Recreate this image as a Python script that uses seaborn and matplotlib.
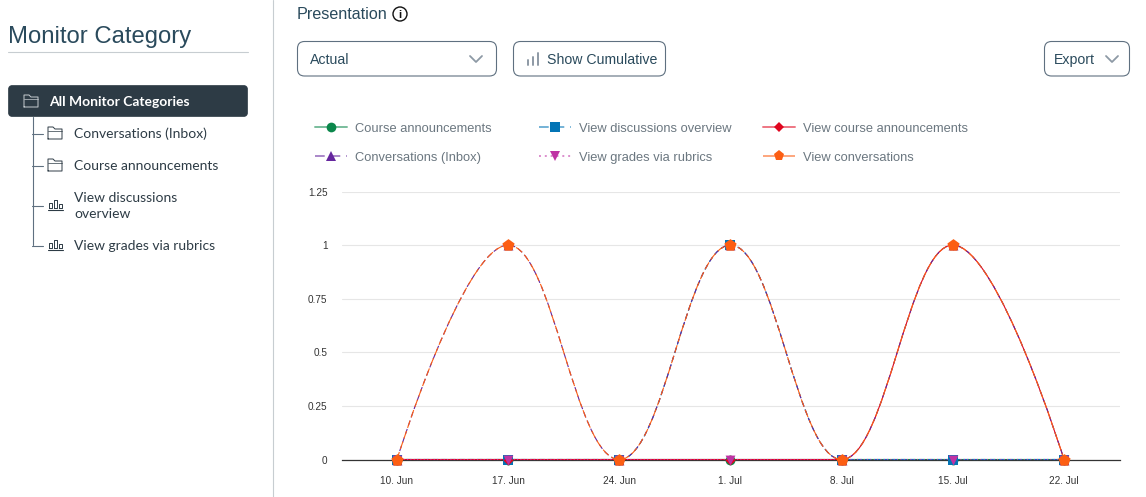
import numpy as np
import pandas as pd
import matplotlib
matplotlib.use("Agg")
import matplotlib.pyplot as plt
import matplotlib.dates as mdates
from matplotlib.colors import to_rgba
from matplotlib.lines import Line2D
from matplotlib.patches import Circle, FancyBboxPatch, PathPatch
from matplotlib.path import Path
import seaborn as sns

date_labels = ["10. Jun", "17. Jun", "24. Jun", "1. Jul", "8. Jul", "15. Jul", "22. Jul"]
y_labels = ["0", "0.25", "0.5", "0.75", "1", "1.25"]
y_ticks = [0, 0.25, 0.5, 0.75, 1, 1.25]

# draw order, later ones sit on top
series_names = [
    "Course announcements",
    "View discussions overview",
    "View course announcements",
    "Conversations (Inbox)",
    "View grades via rubrics",
    "View conversations",
]
course_announcements = [0, 0, 0, 0, 0, 0, 0]
view_discussions = [0, 0, 0, 1, 0, 0, 0]
view_course_announcements = [0, 0, 0, 0, 0, 1, 0]
conversations_inbox = [0, 1, 0, 1, 0, 1, 0]
view_grades = [0, 0, 0, 0, 0, 0, 0]
view_conversations = [0, 1, 0, 1, 0, 1, 0]
series_values = [course_announcements, view_discussions, view_course_announcements,
                 conversations_inbox, view_grades, view_conversations]

colors = ["#0B874B", "#0374B5", "#E0061F", "#65269E", "#BF32A4", "#FC5E13"]
markers = ["o", "s", "D", "^", "v", "p"]
sizes = [50, 60, 26, 50, 50, 85]
legend_sizes = [7, 6.5, 5, 7, 7, 8]
dashes = ["-", (0, (5, 3)), "-", (0, (5, 3)), (0, (1, 2)), (0, (7, 3))]

TEXT = "#2D3B45"
TITLE = "#2A4A5C"
MUTED = "#6B7780"
BORDER = "#5F7080"
CHEVRON = "#8D99A5"
RULE = "#C7CDD1"
W, H = 1146, 497

dates = pd.to_datetime([d + " 2024" for d in date_labels], format="%d. %b %Y")
df = pd.DataFrame({
    "date": np.tile(dates, len(series_names)),
    "series": np.repeat(series_names, len(dates)),
    "value": np.concatenate(series_values),
})


# same smoothing the web chart uses: first and last segment start straight,
# and a control point never overshoots its neighbours
def spline_path(x, y, smoothing=1.5):
    x, y = np.asarray(x, float), np.asarray(y, float)
    slopes = np.zeros(len(y))
    for i in range(1, len(y) - 1):
        t = (y[i + 1] - y[i - 1]) / 5
        left, right = y[i] - t, y[i] + t
        if not (min(y[i - 1], y[i]) <= left <= max(y[i - 1], y[i])
                and min(y[i + 1], y[i]) <= right <= max(y[i + 1], y[i])):
            t = 0
        slopes[i] = t
    verts, codes = [(x[0], y[0])], [Path.MOVETO]
    for i in range(1, len(x)):
        dx = (x[i] - x[i - 1]) / (smoothing + 1)
        c1 = (x[i - 1], y[i - 1])
        if i > 1:
            c1 = (x[i - 1] + dx, y[i - 1] + slopes[i - 1])
        c2 = (x[i], y[i])
        if i < len(x) - 1:
            c2 = (x[i] - dx, y[i] - slopes[i])
        verts += [c1, c2, (x[i], y[i])]
        codes += [Path.CURVE4] * 3
    return Path(verts, codes)


sns.set_theme(style="white", rc={"font.family": ["Liberation Sans", "DejaVu Sans"]})
fig = plt.figure(figsize=(W / 100, H / 100), dpi=100, facecolor="white")

# page furniture lives on a full-figure axes in pixel units
ui = fig.add_axes([0, 0, 1, 1])
ui.set_xlim(0, W)
ui.set_ylim(H, 0)
ui.axis("off")


def rounded_box(x0, y0, x1, y1, r=7, face="white", edge=BORDER, lw=0.8):
    ui.add_patch(FancyBboxPatch((x0, y0), x1 - x0, y1 - y0,
                                boxstyle=f"round,pad=0,rounding_size={r}",
                                fc=face, ec=edge, lw=lw))


def chevron(cx, cy):
    ui.plot([cx - 6, cx, cx + 6], [cy - 3, cy + 3, cy - 3], color=CHEVRON, lw=1.3)


def folder(x, y, color=TEXT):
    ui.plot([x, x, x + 5, x + 7, x + 14, x + 14, x],
            [y + 6, y - 6, y - 6, y - 4, y - 4, y + 6, y + 6], color=color, lw=0.7)
    ui.plot([x, x + 14], [y - 2, y - 2], color=color, lw=0.5)


def bars_icon(x, y):
    for dx, top in [(0, 5), (5, 8), (10, 4)]:
        ui.plot([x + dx, x + dx, x + dx + 3, x + dx + 3, x + dx],
                [y + 4, y + 4 - top, y + 4 - top, y + 4, y + 4], color=TEXT, lw=0.7)
    ui.plot([x - 1, x + 14], [y + 6, y + 6], color=TEXT, lw=0.8)


# left panel
ui.plot([272.5, 272.5], [0, H], color=RULE, lw=0.8)
ui.text(8, 36.5, "Monitor Category", fontsize=17.2, color=TITLE, va="center")
ui.plot([8, 248], [52, 52], color=RULE, lw=0.8)
rounded_box(8.5, 85.5, 247.5, 116.5, r=4, face="#2D3B45", edge="#2D3B45", lw=0.5)
folder(24, 101, color="#C7CDD1")
ui.text(49, 101.5, "All Monitor Categories", fontsize=10, family="Lato",
        weight="bold", color="white", va="center")
ui.plot([32.5, 32.5], [117, 245], color=BORDER, lw=0.8)
for y in [133, 165, 205, 245]:
    ui.plot([32, 43], [y + 0.5, y + 0.5], color=BORDER, lw=0.8)
folder(48, 133)
folder(48, 165)
bars_icon(49, 204)
bars_icon(49, 244)
for y, label in [(134, "Conversations (Inbox)"), (166, "Course announcements"),
                 (198, "View discussions"), (214, "overview"), (246, "View grades via rubrics")]:
    ui.text(74, y, label, fontsize=10, family="Lato", color=TEXT, va="center")

# controls above the chart
ui.text(297, 14.5, "Presentation", fontsize=11.6, color=TITLE, va="center")
ui.add_patch(Circle((400, 14), 7, fc="white", ec="#111111", lw=1.0))
ui.text(400, 14.5, "i", fontsize=8, weight="bold", color="#111111", ha="center", va="center")
rounded_box(297.5, 41.5, 496.5, 76)
ui.text(310, 60, "Actual", fontsize=10.2, color=TITLE, va="center")
chevron(476, 59)
rounded_box(513.5, 41.5, 665.5, 76)
ui.plot([527.5, 527.5], [65, 60], color=CHEVRON, lw=1.4)
ui.plot([532.5, 532.5], [65, 57], color=CHEVRON, lw=1.4)
ui.plot([537.5, 537.5], [65, 53], color=CHEVRON, lw=1.4)
ui.text(547, 60, "Show Cumulative", fontsize=10.2, color=TITLE, va="center")
rounded_box(1044.5, 41.5, 1129.5, 76)
ui.text(1054, 60, "Export", fontsize=10.2, color=TITLE, va="center")
chevron(1112, 59)

# chart
ax = fig.add_axes([342 / W, 1 - 459.5 / H, (1120 - 342) / W, (459.5 - 191.5) / H])
ax.patch.set_alpha(0)
xnum = mdates.date2num(dates)
px_day = (1064 - 397) / (xnum[-1] - xnum[0])
x_range = (xnum[0] - (397 - 342) / px_day, xnum[-1] + (1120 - 1064) / px_day)

for i, name in enumerate(series_names):
    ax.add_patch(PathPatch(spline_path(xnum, series_values[i]), fill=False, ec=colors[i],
                           lw=0.8, ls=dashes[i], zorder=3 + i * 0.1, clip_on=False))
for i, name in enumerate(series_names):
    sns.scatterplot(data=df[df["series"] == name], x="date", y="value", ax=ax,
                    color=colors[i], marker=markers[i], s=sizes[i], linewidth=0,
                    zorder=4 + i * 0.1, clip_on=False, legend=False)

ax.set_xlim(*x_range)
ax.set_ylim(0, 1.25)
ax.set_xticks(dates, date_labels)
ax.set_yticks(y_ticks, y_labels)
ax.set_xlabel("")
ax.set_ylabel("")
ax.grid(axis="y", color="#E6E6E6", lw=0.8)
ax.grid(axis="x", visible=False)
ax.tick_params(axis="x", length=0, pad=12, labelsize=7.2, labelcolor="#333333")
ax.tick_params(axis="y", length=0, pad=10.5, labelsize=7.2, labelcolor="#333333")
sns.despine(ax=ax, left=True)
ax.spines["bottom"].set_color("#333333")
ax.spines["bottom"].set_linewidth(0.9)

# legend: the columns are not evenly spaced, so one legend per column
columns = [([0, 3], 311), ([1, 4], 535), ([2, 5], 759)]
for idx, left in columns:
    handles = [Line2D([], [], color=to_rgba(colors[i], 0.55), lw=1.4, ls=dashes[i],
                      marker=markers[i], markersize=legend_sizes[i], markerfacecolor=colors[i],
                      markeredgecolor=colors[i], markeredgewidth=0) for i in idx]
    leg = fig.legend(handles, [series_names[i] for i in idx], loc="upper left",
                     bbox_to_anchor=(left / W, 1 - 119 / H), frameon=False,
                     fontsize=9.3, handlelength=2.5, handletextpad=0.62,
                     labelspacing=1.3, borderpad=0.3, borderaxespad=0)
    for t in leg.get_texts():
        t.set_color(MUTED)

fig.savefig("out.png", dpi=100)
